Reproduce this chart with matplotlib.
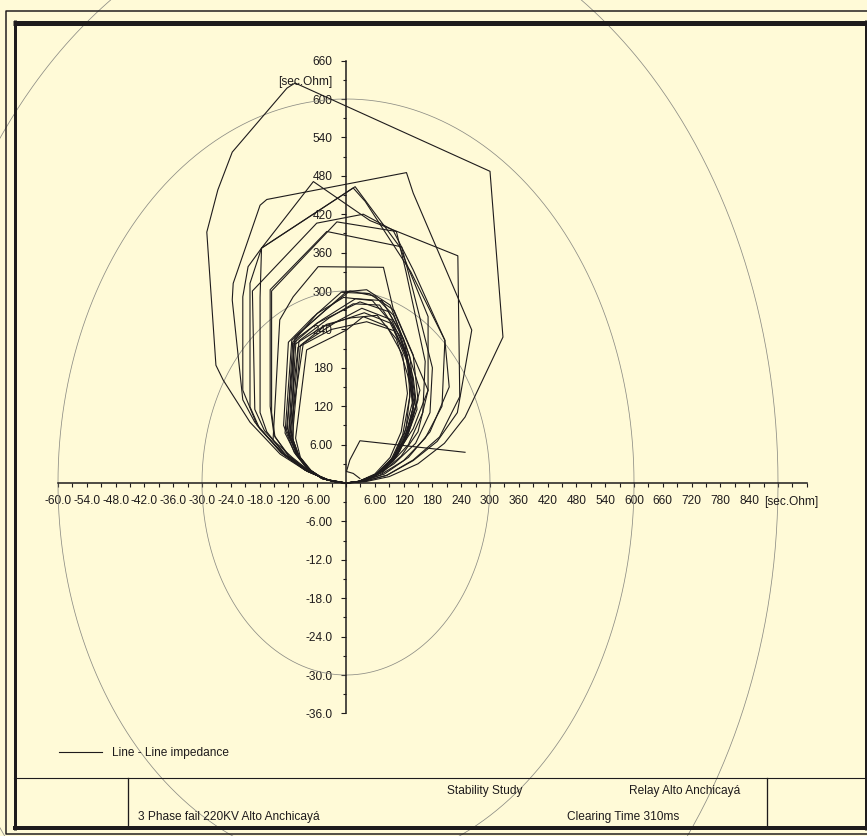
import numpy as np
import matplotlib
matplotlib.use('Agg')
import matplotlib.pyplot as plt

plt.rcParams['font.family'] = ['Liberation Sans', 'DejaVu Sans']

W, H, DPI = 867, 836, 100
BG = '#fffad7'
INK = '#1e1b1c'
GRID = '#8c8c84'

# pixel position of the origin and pixels per sec.Ohm
OX, OY = 346, 483
SX, SY = 0.48, 0.64

# ---- axis ticks (sec.Ohm) ----
X_MAJOR = [-600, -540, -480, -420, -360, -300, -240, -180, -120, -60,
           60, 120, 180, 240, 300, 360, 420, 480, 540, 600, 660, 720, 780, 840]
X_LABELS = ['-60.0', '-54.0', '-48.0', '-42.0', '-36.0', '-30.0', '-24.0', '-18.0', '-120', '-6.00',
            '6.00', '120', '180', '240', '300', '360', '420', '480', '540', '600', '660', '720', '780', '840']
Y_MAJOR = [-360, -300, -240, -180, -120, -60,
           60, 120, 180, 240, 300, 360, 420, 480, 540, 600, 660]
Y_LABELS = ['-36.0', '-30.0', '-24.0', '-18.0', '-12.0', '-6.00',
            '6.00', '120', '180', '240', '300', '360', '420', '480', '540', '600', '660']
X_AXIS_RANGE = (-600, 960)
Y_AXIS_RANGE = (-360, 660)

# characteristic circles
RADII = [300, 600, 900]

# ---- impedance trajectories (R, X) in sec.Ohm ----
CURVE_OUTER = [(0, 0), (-40, 5), (-85, 20), (-137, 45), (-200, 95), (-256, 161), (-271, 184),
               (-290, 392), (-267, 458), (-237, 517), (-123, 617), (-106, 625), (300, 487),
               (327, 228), (248, 103), (205, 62), (150, 30), (90, 10), (40, 2), (0, 0)]

MEDIUM_CURVES = [
    [(0, 0), (-40, 5), (-85, 20), (-135, 48), (-190, 95), (-215, 130), (-237, 286), (-235, 312),
     (-179, 434), (-165, 443), (126, 485), (140, 453), (262, 239), (232, 110), (190, 65),
     (140, 35), (85, 12), (40, 3), (0, 0)],
    [(0, 0), (-40, 5), (-85, 20), (-135, 47), (-185, 90), (-215, 145), (-215, 291), (-204, 338),
     (-176, 367), (-68, 471), (50, 410), (233, 355), (237, 135), (195, 72), (140, 36),
     (85, 12), (40, 3), (0, 0)],
    [(0, 0), (-38, 5), (-80, 18), (-130, 45), (-180, 85), (-200, 119), (-200, 312), (-176, 367),
     (19, 463), (112, 369), (171, 260), (171, 145), (140, 85), (105, 45), (65, 15), (30, 3), (0, 0)],
    [(0, 0), (-38, 5), (-80, 18), (-125, 42), (-165, 80), (-179, 110), (-179, 290), (-176, 367),
     (15, 461), (40, 440), (135, 330), (206, 223), (200, 120), (165, 70), (120, 35), (70, 12),
     (30, 2), (0, 0)],
    [(0, 0), (-35, 4), (-75, 17), (-120, 42), (-150, 75), (-158, 120), (-158, 302), (-40, 393),
     (116, 369), (140, 300), (180, 180), (175, 110), (145, 62), (100, 30), (55, 9), (20, 1), (0, 0)],
    [(0, 0), (-35, 4), (-75, 17), (-118, 42), (-148, 72), (-155, 110), (-155, 300), (-19, 408),
     (105, 393), (125, 330), (165, 190), (160, 110), (130, 60), (90, 28), (50, 8), (20, 1), (0, 0)],
    [(0, 0), (-33, 4), (-70, 15), (-112, 40), (-152, 67), (-138, 255), (-110, 291), (-58, 338),
     (78, 337), (99, 270), (171, 145), (150, 80), (115, 42), (75, 16), (35, 3), (0, 0)],
    [(0, 0), (-37, 5), (-78, 18), (-125, 44), (-170, 82), (-190, 115), (-195, 300), (-61, 406),
     (36, 420), (98, 395), (140, 333), (206, 223), (215, 150), (175, 80), (130, 40), (80, 14),
     (35, 3), (0, 0)],
]

INNER_CURVES = [
    [(0, 0), (-20, 1.5), (-50, 7), (-80, 22), (-105, 45), (-127, 78), (-113, 223), (-55, 262),
     (1, 299), (43, 302), (92, 278), (133, 197), (144, 130), (128, 82), (108, 45), (78, 19),
     (40, 4), (0, 0)],
    [(0, 0), (-20, 1.5), (-50, 7), (-78, 21), (-102, 43), (-124, 83), (-106, 229), (-40, 272),
     (8, 300), (60, 292), (99, 262), (125, 215), (154, 145), (135, 90), (112, 50), (80, 21),
     (40, 4), (0, 0)],
    [(0, 0), (-20, 1.5), (-48, 7), (-76, 21), (-98, 42), (-110, 67), (-110, 218), (-60, 250),
     (29, 283), (88, 268), (120, 225), (138, 160), (140, 110), (120, 68), (95, 35), (60, 12),
     (25, 2), (0, 0)],
    [(0, 0), (-20, 1.5), (-48, 7), (-75, 20), (-98, 42), (-118, 72), (-89, 218), (-20, 252),
     (33, 273), (95, 255), (128, 200), (133, 135), (118, 75), (95, 38), (62, 13), (25, 2), (0, 0)],
    [(0, 0), (-18, 1.2), (-45, 6), (-72, 19), (-95, 40), (-105, 70), (-82, 208), (1, 239),
     (36, 260), (85, 245), (118, 200), (128, 140), (115, 80), (92, 40), (60, 14), (25, 2), (0, 0)],
    [(0, 0), (-20, 1.5), (-50, 7), (-78, 21), (-100, 43), (-120, 75), (-100, 212), (-30, 240),
     (43, 252), (100, 238), (130, 185), (145, 120), (125, 70), (100, 36), (65, 13), (25, 2), (0, 0)],
    [(0, 0), (-20, 1.5), (-49, 7), (-77, 21), (-100, 43), (-116, 80), (-104, 225), (-50, 255),
     (20, 288), (75, 285), (110, 240), (140, 165), (148, 115), (125, 68), (98, 34), (62, 12),
     (25, 2), (0, 0)],
    [(0, 0), (-20, 1.5), (-50, 7), (-79, 22), (-103, 45), (-122, 85), (-111, 220), (-60, 265),
     (-5, 290), (55, 285), (95, 250), (130, 190), (138, 125), (120, 72), (95, 36), (60, 12),
     (25, 2), (0, 0)],
    [(0, 0), (-19, 1.4), (-47, 6.5), (-75, 20), (-97, 41), (-112, 70), (-95, 215), (-45, 245),
     (38, 266), (92, 250), (123, 205), (135, 150), (125, 85), (100, 42), (65, 14), (25, 2), (0, 0)],
    [(0, 0), (-21, 1.6), (-52, 8), (-82, 23), (-108, 48), (-130, 90), (-120, 220), (-70, 258),
     (-10, 298), (48, 296), (100, 270), (140, 200), (150, 130), (130, 78), (105, 42), (70, 16),
     (30, 3), (0, 0)],
    [(0, 0), (-20, 1.5), (-48, 7), (-76, 21), (-99, 42), (-114, 75), (-98, 222), (-35, 258),
     (15, 280), (70, 278), (112, 230), (134, 175), (140, 118), (122, 70), (96, 35), (62, 13),
     (25, 2), (0, 0)],
    [(0, 0), (-20, 1.5), (-49, 7), (-77, 21), (-101, 44), (-119, 80), (-108, 216), (-40, 248),
     (10, 258), (65, 262), (105, 225), (128, 170), (142, 125), (126, 74), (100, 38), (64, 13),
     (26, 2), (0, 0)],
]

CURVE_TAIL = [(29, 7), (15, 15), (1, 18), (8, 36), (29, 66), (248, 48)]

LEGEND_LABEL = 'Line - Line impedance'
UNIT = '[sec.Ohm]'

FS = 8.6

fig = plt.figure(figsize=(W / DPI, H / DPI), dpi=DPI, facecolor=BG)
ax = fig.add_axes([0, 0, 1, 1], zorder=1)
ax.set_facecolor(BG)
ax.set_xlim(-OX / SX, (W - OX) / SX)
ax.set_ylim(-(H - OY) / SY, OY / SY)

# circles (ellipses because of unequal axis scaling)
t = np.linspace(0, 2 * np.pi, 721)
for r in RADII:
    ax.plot(r * np.cos(t), r * np.sin(t), color=GRID, lw=0.55, clip_on=False, zorder=2)

# trajectories
handle = None
for pts in [CURVE_OUTER] + MEDIUM_CURVES + INNER_CURVES + [CURVE_TAIL]:
    arr = np.array(pts, dtype=float)
    ln, = ax.plot(arr[:, 0], arr[:, 1], color=INK, lw=0.8, zorder=3)
    if handle is None:
        handle = ln

# axes through the origin
for side in ('top', 'right'):
    ax.spines[side].set_visible(False)
ax.spines['bottom'].set_position(('data', 0))
ax.spines['left'].set_position(('data', 0))
ax.spines['bottom'].set_bounds(*X_AXIS_RANGE)
ax.spines['left'].set_bounds(*Y_AXIS_RANGE)
for side in ('bottom', 'left'):
    ax.spines[side].set_color(INK)
    ax.spines[side].set_linewidth(1.1)
    ax.spines[side].set_zorder(4)

ax.set_xticks(X_MAJOR)
ax.set_xticklabels(X_LABELS)
ax.set_xticks([v for v in range(X_AXIS_RANGE[0], X_AXIS_RANGE[1] + 1, 30) if v not in X_MAJOR],
              minor=True)
ax.set_yticks(Y_MAJOR)
ax.set_yticklabels(Y_LABELS)
ax.set_yticks([v for v in range(Y_AXIS_RANGE[0], Y_AXIS_RANGE[1] + 1, 30) if v not in Y_MAJOR],
              minor=True)
ax.tick_params(axis='x', which='both', direction='out', length=2.9, width=0.8,
               colors=INK, pad=6.0, labelsize=FS)
ax.tick_params(axis='y', which='major', direction='out', length=3.6, width=0.8,
               colors=INK, pad=6.0, labelsize=FS)
ax.tick_params(axis='y', which='minor', direction='out', length=2.2, width=0.8, colors=INK)

ax.annotate(UNIT, xy=(927, 0), xytext=(0, -13.7), textcoords='offset points',
            ha='center', va='center', fontsize=FS, color=INK)
ax.text(-84, 627, UNIT, ha='center', va='center', fontsize=FS, color=INK)

# ---- frame and title block (pixel coordinates) ----
fr = fig.add_axes([0, 0, 1, 1], zorder=5)
fr.set_xlim(0, W)
fr.set_ylim(H, 0)
fr.axis('off')
fr.patch.set_alpha(0)

px = 0.72  # points per pixel
fr.plot([W + 2, 6, 6, W + 2], [10.5, 10.5, 834, 834], color=INK, lw=1.5 * px)
fr.plot([13, W], [22.5, 22.5], color=INK, lw=5 * px, solid_capstyle='butt')
fr.plot([13, W], [828, 828], color=INK, lw=4 * px, solid_capstyle='butt')
fr.plot([14.5, 14.5], [20, 830], color=INK, lw=3 * px, solid_capstyle='butt')
fr.plot([865.5, 865.5], [20, 830], color=INK, lw=3 * px, solid_capstyle='butt')
fr.plot([14, W], [777.5, 777.5], color=INK, lw=1.1 * px)
for xv in (128, 767):
    fr.plot([xv, xv], [777.5, 827], color=INK, lw=1.3 * px)

fr.text(485, 791, 'Stability Study', ha='center', va='center', fontsize=FS, color=INK)
fr.text(685, 791, 'Relay Alto Anchicayá', ha='center', va='center', fontsize=FS, color=INK)
fr.text(138, 817, '3 Phase fail 220KV Alto Anchicayá', ha='left', va='center', fontsize=FS, color=INK)
fr.text(623, 817, 'Clearing Time 310ms', ha='center', va='center', fontsize=FS, color=INK)

fig.legend([handle], [LEGEND_LABEL], loc='center left',
           bbox_to_anchor=(59 / W, 1 - 753 / H), frameon=False, fontsize=FS,
           handlelength=3.6, handletextpad=0.8, borderpad=0, borderaxespad=0,
           labelcolor=INK)

fig.savefig('out.png', dpi=DPI, facecolor=BG)
